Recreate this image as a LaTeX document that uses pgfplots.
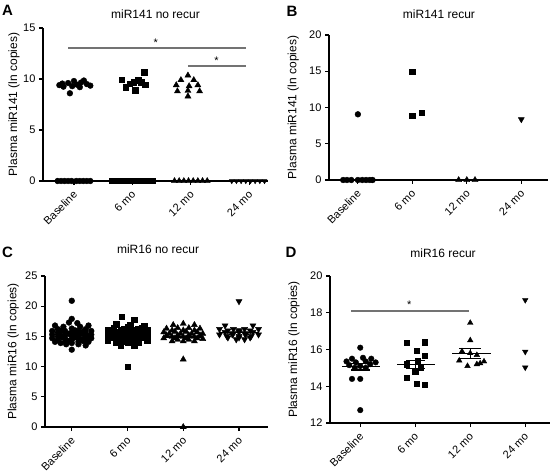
\documentclass[border=0pt]{standalone}
\usepackage{fontspec}
\setmainfont{Liberation Sans}
\usepackage{pgfplots}
\pgfplotsset{compat=1.18}
\definecolor{sigbar}{RGB}{115,115,115}
\pgfplotsset{
  panel/.style={
    scale only axis,
    axis x line*=bottom, axis y line*=left,
    axis line style={line width=1.4pt, -},
    xtick={0,1,2,3}, xticklabels={Baseline,6 mo,12 mo,24 mo},
    tick align=outside, major tick length=4pt,
    tick style={line width=1.1pt, black},
    /pgf/number format/assume math mode=true,
    tick label style={font=\fontsize{11}{13}\selectfont},
    x tick label style={yshift=-7pt, xshift=2pt, rotate=45, anchor=east, inner sep=1pt},
    title style={font=\fontsize{12}{14}\selectfont, anchor=center},
    ylabel style={font=\fontsize{12}{14}\selectfont, anchor=center},
    clip=false,
  },
  circ/.style={only marks, mark=*, mark size=2.9pt, black},
  sq/.style={only marks, mark=square*, mark size=2.7pt, black},
  tri/.style={only marks, mark=triangle*, mark size=3.5pt, black},
  dtri/.style={only marks, mark=triangle*, mark size=3.5pt, black, mark options={rotate=180}},
  sig/.style={sigbar, line width=1.6pt, no marks},
  mline/.style={black, line width=1.2pt, no marks},
}
\begin{document}
\begin{tikzpicture}[x=1pt,y=1pt]
\path[use as bounding box] (0,0) rectangle (554,474);

% ---------------- A ----------------
\begin{axis}[panel, at={(43pt,293pt)}, anchor=south west,
  width=225pt, height=153pt,
  xmin=-0.53, xmax=3.32, ymin=0, ymax=15, ytick={0,5,10,15},
  title={miR141 no recur}, title style={at={(axis description cs:0.5,1.052)}},
  ylabel={Plasma miR141 (ln copies)}, ylabel style={at={(axis description cs:-0.129,0.5)}}]
\addplot[sig] coordinates {(-0.1,13.05) (2.94,13.05)};
\addplot[sig] coordinates {(1.95,11.3) (2.94,11.3)};
\node[anchor=base, inner sep=0pt, font=\fontsize{11}{13}\selectfont] at (axis cs:1.4,13.15) {*};
\node[anchor=base, inner sep=0pt, font=\fontsize{11}{13}\selectfont] at (axis cs:2.44,11.4) {*};
% Baseline
\addplot[circ] coordinates {(-0.25,9.4) (-0.18,9.25) (-0.2,9.55) (-0.1,9.6) (-0.03,9.3) (0.05,9.45) (0.12,9.65) (0.17,9.85) (0.22,9.5) (0.28,9.35) (0.0,9.8) (-0.07,8.6) (0.1,9.2)
 (-0.28,0) (-0.22,0) (-0.16,0) (-0.1,0) (-0.04,0) (0.04,0) (0.1,0) (0.16,0) (0.22,0) (0.28,0)};
% 6 mo
\addplot[sq] coordinates {(0.82,9.95) (0.88,9.2) (0.95,9.55) (1.02,9.7) (1.05,8.9) (1.1,9.9) (1.15,9.7) (1.2,10.65) (1.22,9.45)
 (0.65,0) (0.72,0) (0.79,0) (0.86,0) (0.93,0) (1.0,0) (1.07,0) (1.14,0) (1.21,0) (1.28,0) (1.35,0)};
% 12 mo
\addplot[tri] coordinates {(1.95,10.35) (1.83,9.9) (2.05,9.9) (1.75,9.4) (1.97,9.3) (2.12,9.4) (1.77,8.8) (1.95,8.85) (2.15,8.8) (1.95,8.3)
 (1.72,0) (1.8,0) (1.88,0) (1.96,0) (2.04,0) (2.12,0) (2.2,0) (2.28,0)};
% 24 mo
\addplot[dtri, mark size=2.8pt] coordinates {(2.7,0) (2.78,0) (2.86,0) (2.94,0) (3.02,0) (3.1,0) (3.18,0) (3.26,0)};
\end{axis}

% ---------------- B ----------------
\begin{axis}[panel, at={(329pt,294pt)}, anchor=south west,
  width=219pt, height=145pt,
  xmin=-0.53, xmax=3.49, ymin=0, ymax=20, ytick={0,5,10,15,20},
  title={miR141 recur}, title style={at={(axis description cs:0.502,1.099)}},
  ylabel={Plasma miR141 (ln copies)}, ylabel style={at={(axis description cs:-0.163,0.5)}}]
\addplot[circ] coordinates {(0,9.06) (-0.27,0) (-0.2,0) (-0.12,0) (0,0) (0.08,0) (0.15,0) (0.22,0) (0.27,0)};
\addplot[sq] coordinates {(1,14.95) (1,8.87) (1.17,9.29)};
\addplot[tri] coordinates {(1.85,0) (2,0) (2.15,0)};
\addplot[dtri] coordinates {(3,8.37)};
\end{axis}

% ---------------- C ----------------
\begin{axis}[panel, at={(45pt,47pt)}, anchor=south west,
  width=223pt, height=151pt,
  xmin=-0.48, xmax=3.52, ymin=0, ymax=25, ytick={0,5,10,15,20,25},
  title={miR16 no recur}, title style={at={(axis description cs:0.507,1.139)}},
  ylabel={Plasma miR16 (ln copies)}, ylabel style={at={(axis description cs:-0.142,0.5)}}]
\addplot[circ] coordinates {(0,20.9) (0,17.9) (-0.05,17.3) (0.1,17.2)
 (-0.3,16.8) (0.3,16.8) (-0.15,16.6) (0.15,16.6)
 (-0.25,16.2) (0,16.3) (0.25,16.2) (-0.35,15.9) (-0.12,15.9) (0.12,15.9) (0.35,15.9)
 (-0.25,15.6) (0,15.6) (0.25,15.6) (-0.35,15.3) (-0.12,15.3) (0.12,15.3) (0.35,15.3)
 (-0.25,15.0) (0,15.0) (0.25,15.0) (-0.35,14.7) (-0.12,14.7) (0.12,14.7) (0.35,14.7)
 (-0.25,14.4) (0,14.4) (0.25,14.4) (-0.3,14.1) (-0.12,14.1) (0.12,14.1) (0.3,14.1)
 (-0.1,13.7) (0.12,13.7) (0.25,13.5) (0,12.8)
 (-0.18,16.0) (0.06,16.0) (0.2,15.8) (-0.06,15.45) (0.18,15.45) (-0.2,15.15) (0.06,15.15) (0.3,15.05)
 (-0.18,14.85) (0.06,14.85) (0.2,14.55) (-0.06,14.25) (0.2,14.25) (-0.2,13.9) (0.0,13.9)};
\addplot[sq] coordinates {(0.9,18.3) (1.12,17.8)
 (0.8,17.0) (1.05,16.9) (1.3,16.8)
 (0.75,16.4) (1.0,16.5) (1.25,16.4)
 (0.65,16.0) (0.88,16.0) (1.12,16.0) (1.35,16.0)
 (0.75,15.6) (1.0,15.6) (1.25,15.6)
 (0.65,15.2) (0.88,15.2) (1.12,15.2) (1.35,15.2)
 (0.75,14.8) (1.0,14.8) (1.25,14.8)
 (0.65,14.4) (0.88,14.4) (1.12,14.4) (1.35,14.4)
 (0.8,14.0) (1.0,14.0) (1.2,14.0)
 (0.88,13.5) (1.12,13.5)
 (0.94,16.2) (1.18,16.2) (0.82,15.8) (1.06,15.8) (1.3,15.8) (0.94,15.4) (1.18,15.4)
 (0.82,15.0) (1.06,15.0) (1.3,15.0) (0.94,14.6) (1.18,14.6) (0.9,14.2) (1.1,14.2)
 (1,10.0)};
\addplot[tri] coordinates {(1.82,16.9) (2,17.1) (2.2,16.9)
 (1.7,16.3) (1.9,16.4) (2.1,16.4) (2.3,16.3)
 (1.65,15.7) (1.85,15.8) (2.05,15.8) (2.25,15.7)
 (1.7,15.2) (1.9,15.2) (2.1,15.2) (2.3,15.2)
 (1.65,14.7) (1.85,14.7) (2.05,14.7) (2.25,14.7) (2.35,14.6)
 (1.8,14.2) (2,14.2) (2.2,14.2)
 (1.8,16.0) (2.0,16.0) (2.2,16.0) (1.75,15.45) (1.95,15.45) (2.15,15.45) (2.35,15.45)
 (1.8,14.95) (2.0,14.95) (2.2,14.95) (1.9,14.45) (2.1,14.45)
 (2,11.2) (2,0)};
\addplot[dtri] coordinates {(3,20.8)
 (2.75,16.8) (3.25,16.8)
 (2.65,16.2) (2.9,16.2) (3.1,16.2) (3.35,16.2)
 (2.75,15.7) (3,15.7) (3.25,15.7)
 (2.65,15.3) (2.88,15.3) (3.12,15.3) (3.35,15.3)
 (2.8,14.8) (3,14.8) (3.2,14.8) (2.95,14.5) (3.1,14.5)
 (2.8,15.95) (3.0,16.0) (3.2,15.95) (2.9,15.5) (3.1,15.5) (2.78,15.05) (3.0,15.05) (3.22,15.05)};
\addplot[mline] coordinates {(-0.33,15.3) (0.37,15.3)};
\addplot[mline] coordinates {(0.66,15.1) (1.35,15.1)};
\addplot[mline] coordinates {(1.66,14.9) (2.36,14.9)};
\addplot[mline] coordinates {(2.64,15.7) (3.36,15.7)};
\end{axis}

% ---------------- D ----------------
\begin{axis}[panel, at={(330pt,51pt)}, anchor=south west,
  width=220pt, height=147pt,
  xmin=-0.55, xmax=3.45, ymin=12, ymax=20, ytick={12,14,16,18,20},
  title={miR16 recur}, title style={at={(axis description cs:0.514,1.116)}},
  ylabel={Plasma miR16 (ln copies)}, ylabel style={at={(axis description cs:-0.164,0.5)}}]
\addplot[sig] coordinates {(-0.16,18.1) (1.97,18.1)};
\node[anchor=base, inner sep=0pt, font=\fontsize{11}{13}\selectfont] at (axis cs:0.89,18.25) {*};
\addplot[circ, mark size=2.8pt] coordinates {(0,16.1)
 (-0.15,15.5) (0.05,15.55) (0.2,15.5)
 (-0.25,15.35) (-0.08,15.3) (0.1,15.35) (0.28,15.3)
 (-0.2,15.15) (0,15.1) (0.18,15.2)
 (-0.1,15.0) (0.1,15.0)
 (-0.15,14.4) (0,14.4) (0,12.7)};
\addplot[sq, mark size=2.6pt] coordinates {(0.85,16.35) (1.17,16.4) (1.03,15.95) (1.17,15.65) (1.05,15.4) (0.85,15.2) (1.1,15.0) (1.0,14.8) (0.85,14.45) (1.03,14.15) (1.17,14.1)};
\addplot[tri, mark size=3.2pt] coordinates {(2,17.45) (2,16.5) (1.85,15.9) (2,15.8) (2.12,15.7) (1.8,15.4) (2.25,15.35) (2.12,15.2) (1.95,15.1) (2.18,15.25)};
\addplot[dtri, mark size=3.2pt] coordinates {(3,18.69) (3,15.88) (3,15.02)};
% means and SEM
\addplot[mline] coordinates {(-0.33,15.06) (0.36,15.06)};
\addplot[mline] coordinates {(0,14.88) (0,15.24)};
\addplot[mline] coordinates {(-0.17,15.24) (0.17,15.24)};
\addplot[mline] coordinates {(-0.17,14.88) (0.17,14.88)};
\addplot[mline] coordinates {(0.67,15.18) (1.35,15.18)};
\addplot[mline] coordinates {(1,14.96) (1,15.4)};
\addplot[mline] coordinates {(0.83,15.4) (1.17,15.4)};
\addplot[mline] coordinates {(0.83,14.96) (1.17,14.96)};
\addplot[mline] coordinates {(1.67,15.77) (2.37,15.77)};
\addplot[mline] coordinates {(2,15.5) (2,16.05)};
\addplot[mline] coordinates {(1.8,16.05) (2.2,16.05)};
\addplot[mline] coordinates {(1.8,15.5) (2.2,15.5)};
\end{axis}

\node[font=\fontsize{15}{17}\selectfont\bfseries] at (7.5,464) {A};
\node[font=\fontsize{15}{17}\selectfont\bfseries] at (292,463) {B};
\node[font=\fontsize{15}{17}\selectfont\bfseries] at (7.5,221.5) {C};
\node[font=\fontsize{15}{17}\selectfont\bfseries] at (291,221.5) {D};
\end{tikzpicture}
\end{document}
